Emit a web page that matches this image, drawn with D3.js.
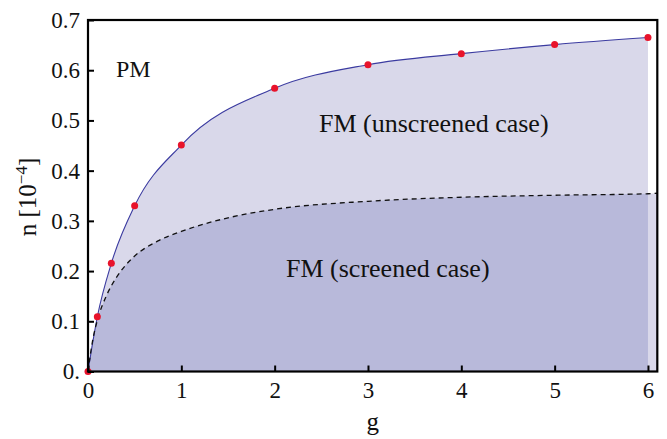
<!DOCTYPE html>
<html>
<head>
<meta charset="utf-8">
<script src="https://cdn.jsdelivr.net/npm/d3@7"></script>
<style>
  body { margin: 0; background: #fff; }
  text { font-family: "Liberation Serif", "DejaVu Serif", serif; fill: #111; }
</style>
</head>
<body>
<div id="chart"></div>
<script>
// unscreened case: computed points (red dots)
const gPoints = [0, 0.1, 0.25, 0.5, 1, 2, 3, 4, 5, 6];
const nUnscreened = [0, 0.109, 0.2155, 0.330, 0.451, 0.564, 0.611, 0.633, 0.651, 0.665];

// screened case boundary (dashed)
const gScreened = [0, 0.05, 0.1, 0.2, 0.3, 0.4, 0.5, 0.75, 1, 1.5, 2, 3, 4, 5, 6, 6.1];
const nScreened = [0, 0.062, 0.102, 0.152, 0.186, 0.211, 0.230, 0.260, 0.279, 0.306, 0.323, 0.339, 0.347, 0.351, 0.354, 0.355];

const xTicks = [0, 1, 2, 3, 4, 5, 6];
const yTicks = [0, 0.1, 0.2, 0.3, 0.4, 0.5, 0.6, 0.7];

const W = 667, H = 439;
const plotLeft = 88, plotRight = 657.3, plotTop = 20, plotBottom = 371.5;

const svg = d3.select("#chart").append("svg")
    .attr("width", W)
    .attr("height", H);

const x = d3.scaleLinear().domain([0, 6.1]).range([plotLeft, plotRight]);
const y = d3.scaleLinear().domain([0, 0.7]).range([plotBottom, plotTop]);

const unscreened = gPoints.map((g, i) => ({ g, n: nUnscreened[i] }));
const screened = gScreened.map((g, i) => ({ g, n: nScreened[i] }));

const area = d3.area()
    .x(d => x(d.g))
    .y0(y(0))
    .y1(d => y(d.n))
    .curve(d3.curveMonotoneX);

const line = d3.line()
    .x(d => x(d.g))
    .y(d => y(d.n))
    .curve(d3.curveMonotoneX);

// fills
svg.append("path").attr("d", area(unscreened)).attr("fill", "#d9d8ea");
svg.append("path").attr("d", area(screened)).attr("fill", "#d9d8ea");
svg.append("path").attr("d", area(screened.filter(d => d.g <= 6))).attr("fill", "#b8b9da");

// curves
svg.append("path")
    .attr("d", line(unscreened))
    .attr("fill", "none")
    .attr("stroke", "#3b3ba0")
    .attr("stroke-width", 1.1);

svg.append("path")
    .attr("d", line(screened))
    .attr("fill", "none")
    .attr("stroke", "#111")
    .attr("stroke-width", 1.3)
    .attr("stroke-dasharray", "5,4");

svg.selectAll(".dot")
    .data(unscreened)
    .enter()
    .append("circle")
    .attr("class", "dot")
    .attr("cx", d => x(d.g))
    .attr("cy", d => y(d.n))
    .attr("r", 3.5)
    .attr("fill", "#e8132b");

// axes
const xAxis = svg.append("g")
    .attr("transform", `translate(0,${plotBottom})`)
    .call(d3.axisBottom(x).tickValues(xTicks).tickFormat(d3.format("d"))
        .tickSizeInner(-6).tickSizeOuter(0).tickPadding(10));

const yAxis = svg.append("g")
    .attr("transform", `translate(${plotLeft},0)`)
    .call(d3.axisLeft(y).tickValues(yTicks).tickFormat(d => d === 0 ? "0." : d3.format(".1f")(d))
        .tickSizeInner(-6).tickSizeOuter(0).tickPadding(8));

[xAxis, yAxis].forEach(a => {
    a.select(".domain").remove();
    a.selectAll(".tick line").attr("stroke", "#000").attr("stroke-width", 2);
    a.selectAll(".tick text").style("font-size", "23px").attr("fill", "#111");
});

// frame
svg.append("rect")
    .attr("x", plotLeft)
    .attr("y", plotTop)
    .attr("width", plotRight - plotLeft)
    .attr("height", plotBottom - plotTop)
    .attr("fill", "none")
    .attr("stroke", "#000")
    .attr("stroke-width", 2.2);

// axis titles
svg.append("text")
    .attr("x", x(3.05))
    .attr("y", 430)
    .attr("text-anchor", "middle")
    .style("font-size", "25px")
    .text("g");

const yl = svg.append("text")
    .attr("transform", "translate(36,197) rotate(-90)")
    .attr("text-anchor", "middle")
    .style("font-size", "25px");
yl.append("tspan").text("n [10");
yl.append("tspan").attr("dy", -9).style("font-size", "17px").text("\u22124");
yl.append("tspan").attr("dy", 9).text("]");

// region labels
svg.append("text").attr("x", 116).attr("y", 77).style("font-size", "24px").text("PM");
svg.append("text").attr("x", 319).attr("y", 132).style("font-size", "26px").text("FM (unscreened case)");
svg.append("text").attr("x", 286).attr("y", 277).style("font-size", "26px").text("FM (screened case)");
</script>
</body>
</html>
